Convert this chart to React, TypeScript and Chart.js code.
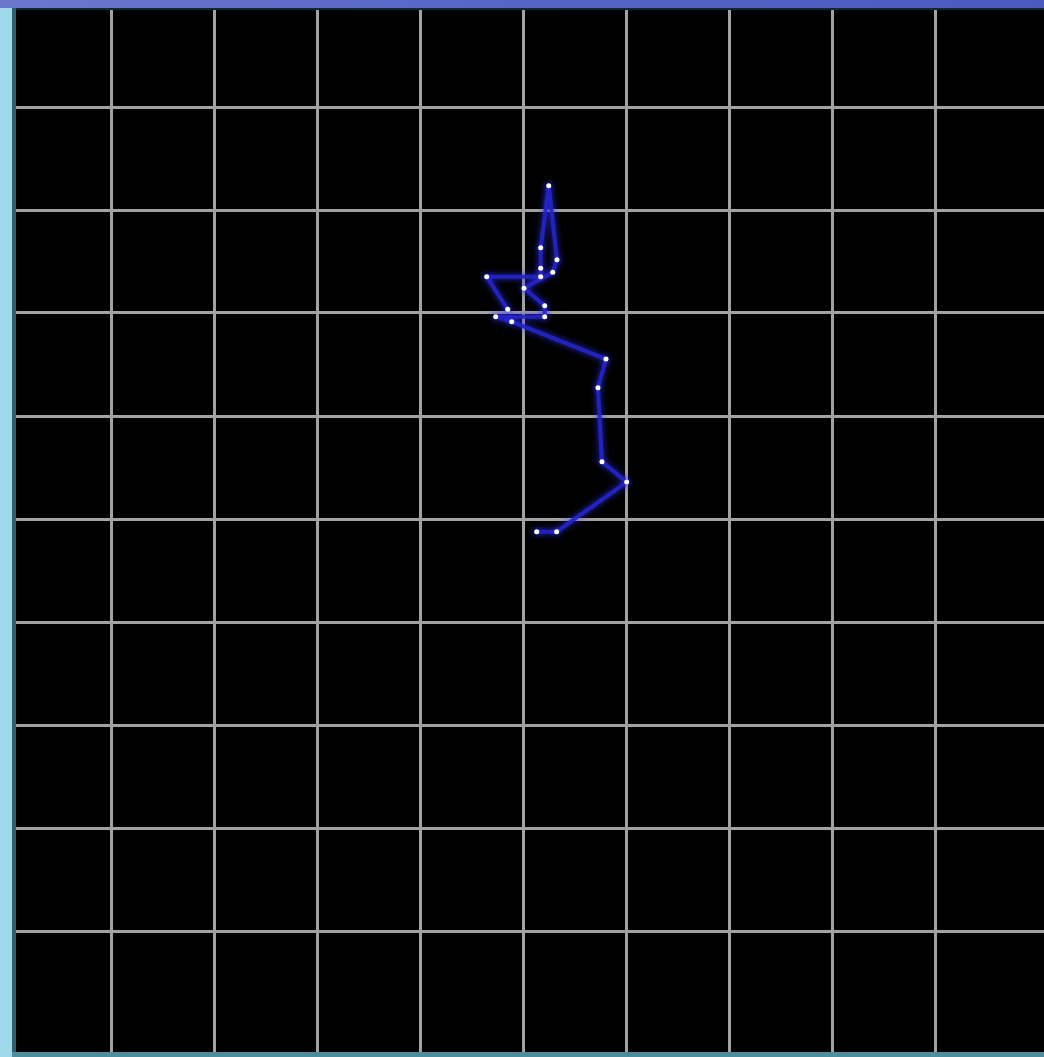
import React, { useEffect, useRef } from "react";
import { Chart, registerables } from "chart.js";

Chart.register(...registerables);

// Walk path, in grid units (one grid cell = 1 unit, origin at the centre grid crossing)
const pathX = [0.123, 0.317, 0.997, 0.757, 0.718, 0.796, -0.119, -0.275, 0.201, 0.201, 0.0, 0.279, 0.32, 0.24, 0.162, 0.162, 0.162, -0.362, -0.158];
const pathY = [-0.123, -0.123, 0.359, 0.556, 1.275, 1.553, 1.916, 1.964, 1.964, 2.071, 2.24, 2.395, 2.517, 3.236, 2.634, 2.434, 2.352, 2.352, 2.036];

const gridXTicks = [-4, -3, -2, -1, 0, 1, 2, 3, 4];
const gridYTicks = [-4, -3, -2, -1, 0, 1, 2, 3, 4];

const frame = {
  id: "frame",
  beforeDraw(chart: any) {
    const { ctx, chartArea, width, height } = chart;
    ctx.save();
    ctx.fillStyle = "#0a2a36";
    ctx.fillRect(0, 0, width, height);
    const g = ctx.createLinearGradient(0, 0, width, 0);
    g.addColorStop(0, "#6a78cc");
    g.addColorStop(0.5, "#5664c4");
    g.addColorStop(1, "#4c5ac0");
    ctx.fillStyle = g;
    ctx.fillRect(0, 0, width, 8);
    ctx.fillStyle = "#9fd9ec";
    ctx.fillRect(0, 8, 12, height - 8);
    ctx.fillStyle = "#2f5f6e";
    ctx.fillRect(12, 8, 4, height - 8);
    ctx.fillStyle = "#4d8d9c";
    ctx.fillRect(12, chartArea.bottom, width - 12, height - chartArea.bottom);
    ctx.fillStyle = "#000000";
    ctx.fillRect(chartArea.left, chartArea.top, chartArea.right - chartArea.left, chartArea.bottom - chartArea.top);
    ctx.restore();
  },
  beforeDatasetsDraw(chart: any) {
    const ctx = chart.ctx;
    ctx.save();
    ctx.shadowColor = "rgba(50,50,255,0.9)";
    ctx.shadowBlur = 6;
  },
  afterDatasetsDraw(chart: any) {
    chart.ctx.restore();
  },
};

export default function App() {
  const ref = useRef<HTMLCanvasElement>(null);
  useEffect(() => {
    const points = pathX.map((x, i) => ({ x, y: pathY[i] }));
    const chart = new Chart(ref.current!, {
      type: "line",
      data: {
        datasets: [
          {
            data: points,
            borderColor: "rgba(36,36,200,0.92)",
            borderWidth: 4,
            borderJoinStyle: "round",
            borderCapStyle: "round",
            pointRadius: 2.5,
            pointBackgroundColor: "#ffffff",
            pointBorderWidth: 0,
            tension: 0,
          },
        ],
      },
      options: {
        animation: false,
        responsive: false,
        devicePixelRatio: 1,
        layout: { autoPadding: false, padding: { left: 16, top: 10, right: 0, bottom: 5 } },
        plugins: { legend: { display: false }, tooltip: { enabled: false } },
        scales: {
          x: {
            type: "linear",
            min: (16 - 524) / 103,
            max: (1044 - 524) / 103,
            afterBuildTicks: (s: any) => {
              s.ticks = gridXTicks.map((v) => ({ value: v }));
            },
            ticks: { display: false },
            grid: { color: "#a2a2a2", lineWidth: 3, drawTicks: false },
            border: { display: false },
          },
          y: {
            type: "linear",
            min: (519 - 1052) / 103,
            max: (519 - 10) / 103,
            afterBuildTicks: (s: any) => {
              s.ticks = gridYTicks.map((v) => ({ value: v }));
            },
            ticks: { display: false },
            grid: { color: "#a2a2a2", lineWidth: 3, drawTicks: false },
            border: { display: false },
          },
        },
      },
      plugins: [frame],
    });
    return () => chart.destroy();
  }, []);
  return (
    <canvas
      ref={ref}
      width={1044}
      height={1057}
      style={{ position: "fixed", left: 0, top: 0, width: 1044, height: 1057, display: "block" }}
    />
  );
}
